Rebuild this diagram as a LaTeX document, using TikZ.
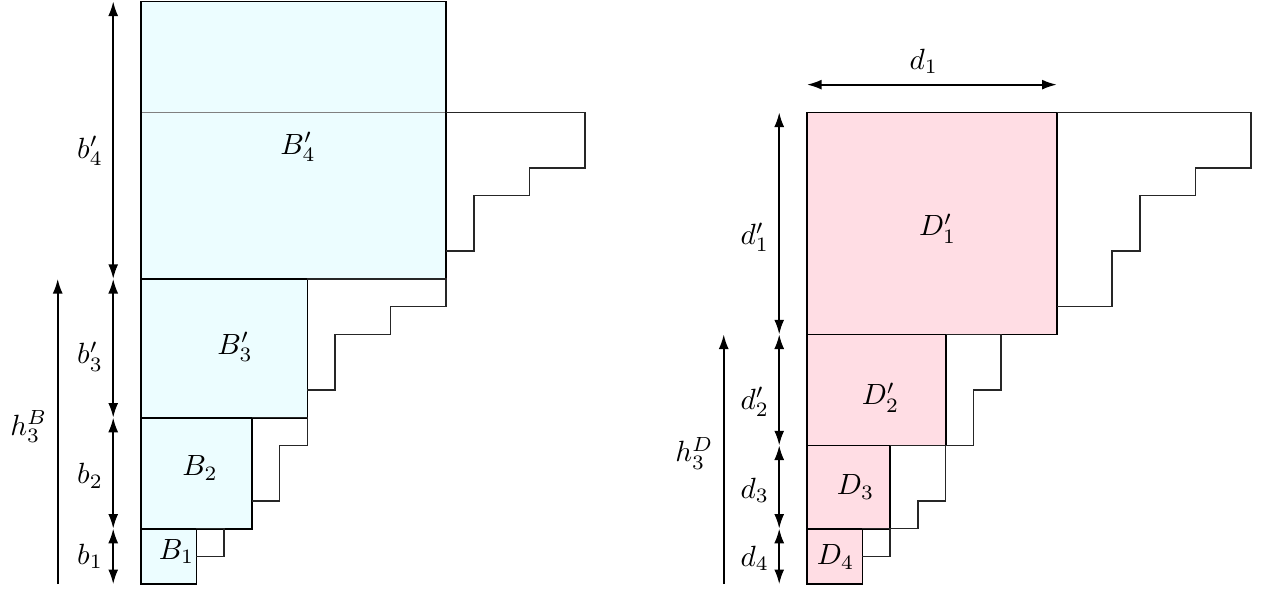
\documentclass[tikz,border=0pt]{standalone}
\usetikzlibrary{arrows.meta}
\definecolor{boxcyan}{RGB}{236,253,255}
\definecolor{boxpink}{RGB}{255,221,228}
\tikzset{
  tip/.tip={Latex[length=5pt,width=3.4pt]},
  sq/.style={draw=black, line width=0.6pt},
  stair/.style={draw=black!85, line width=0.5pt},
  dimarrow/.style={tip-tip, line width=0.6pt},
  uparrow/.style={-tip, line width=0.6pt},
  lbl/.style={anchor=east, inner sep=3.33pt},
  boxlbl/.style={inner sep=0pt}
}
\begin{document}
\begin{tikzpicture}[x=0.33333cm,y=0.33333cm]
\useasboundingbox (-5.08,-0.25) rectangle (40.47,21.05);

% ---------- left figure ----------
\fill[boxcyan] (0,11) rectangle (11,21);
\draw[gray, line width=0.5pt] (0,17) -- (11,17);
\draw[sq] (0,11) rectangle (11,21);
\draw[stair] (11,17) -| (16,15) -| (14,14) -| (12,12) -- (11,12);

\draw[sq, fill=boxcyan] (0,6) rectangle (6,11);
\draw[stair] (6,11) -| (11,10) -| (9,9) -| (7,7) -- (6,7);

\draw[sq, fill=boxcyan] (0,2) rectangle (4,6);
\draw[stair] (4,6) -| (6,5) -| (5,3) -- (4,3);

\draw[sq, fill=boxcyan] (0,0) rectangle (2,2);
\draw[stair] (2,2) -| (3,1) -- (2,1);

\node[boxlbl] (B1) at (1.28,1.17) {$B_1$};
\node[boxlbl] (B2) at (2.13,4.18) {$B_2$};
\node[boxlbl] (B3) at (3.39,8.55) {$B'_3$};
\node[boxlbl] (B4) at (5.66,15.76) {$B'_4$};

\coordinate (lb0) at (-1,0);
\coordinate (lb1) at (-1,2);
\coordinate (lb2) at (-1,6);
\coordinate (lb3) at (-1,11);
\coordinate (lb4) at (-1,21);
\draw[dimarrow] (lb0) -- (lb1);
\draw[dimarrow] (lb1) -- (lb2);
\draw[dimarrow] (lb2) -- (lb3);
\draw[dimarrow] (lb3) -- (lb4);
\node[lbl] (b1) at (-1,1.0) {$b_1$};
\node[lbl] (b2) at (-1,3.9) {$b_2$};
\node[lbl] (b3) at (-1,8.2) {$b'_3$};
\node[lbl] (b4) at (-1,15.6) {$b'_4$};

\coordinate (hB0) at (-3,0);
\coordinate (hB1) at (-3,11);
\draw[uparrow] (hB0) -- (hB1);
\node[lbl] (hB) at (-3,5.67) {$h_3^B$};

% ---------- right figure ----------
\begin{scope}[xshift=8cm]
\draw[sq, fill=boxpink] (0,9) rectangle (9,17);
\draw[stair] (9,17) -| (16,15) -| (14,14) -| (12,12) -| (11,10) -- (9,10);

\draw[sq, fill=boxpink] (0,5) rectangle (5,9);
\draw[stair] (5,9) -| (7,7) -| (6,5) -- (5,5);

\draw[sq, fill=boxpink] (0,2) rectangle (3,5);
\draw[stair] (3,5) -| (5,3) -| (4,2) -- (3,2);

\draw[sq, fill=boxpink] (0,0) rectangle (2,2);
\draw[stair] (2,2) -| (3,1) -- (2,1);

\node[boxlbl] (D1) at (4.71,12.82) {$D'_1$};
\node[boxlbl] (D2) at (2.65,6.73) {$D'_2$};
\node[boxlbl] (D3) at (1.75,3.5) {$D_3$};
\node[boxlbl] (D4) at (1.03,0.98) {$D_4$};

\coordinate (rd0) at (-1,0);
\coordinate (rd1) at (-1,2);
\coordinate (rd2) at (-1,5);
\coordinate (rd3) at (-1,9);
\coordinate (rd4) at (-1,17);
\draw[dimarrow] (rd0) -- (rd1);
\draw[dimarrow] (rd1) -- (rd2);
\draw[dimarrow] (rd2) -- (rd3);
\draw[dimarrow] (rd3) -- (rd4);
\node[lbl] (d4) at (-1,0.93) {$d_4$};
\node[lbl] (d3) at (-1,3.39) {$d_3$};
\node[lbl] (d2) at (-1,6.57) {$d'_2$};
\node[lbl] (d1p) at (-1,12.5) {$d'_1$};

\coordinate (hD0) at (-3,0);
\coordinate (hD1) at (-3,9);
\draw[uparrow] (hD0) -- (hD1);
\node[lbl] (hD) at (-3,4.72) {$h_3^D$};

\coordinate (w0) at (0,18);
\coordinate (w1) at (9,18);
\draw[dimarrow] (w0) -- (w1);
\node[boxlbl] (dw) at (4.21,18.85) {$d_1$};
\end{scope}
\end{tikzpicture}
\end{document}
